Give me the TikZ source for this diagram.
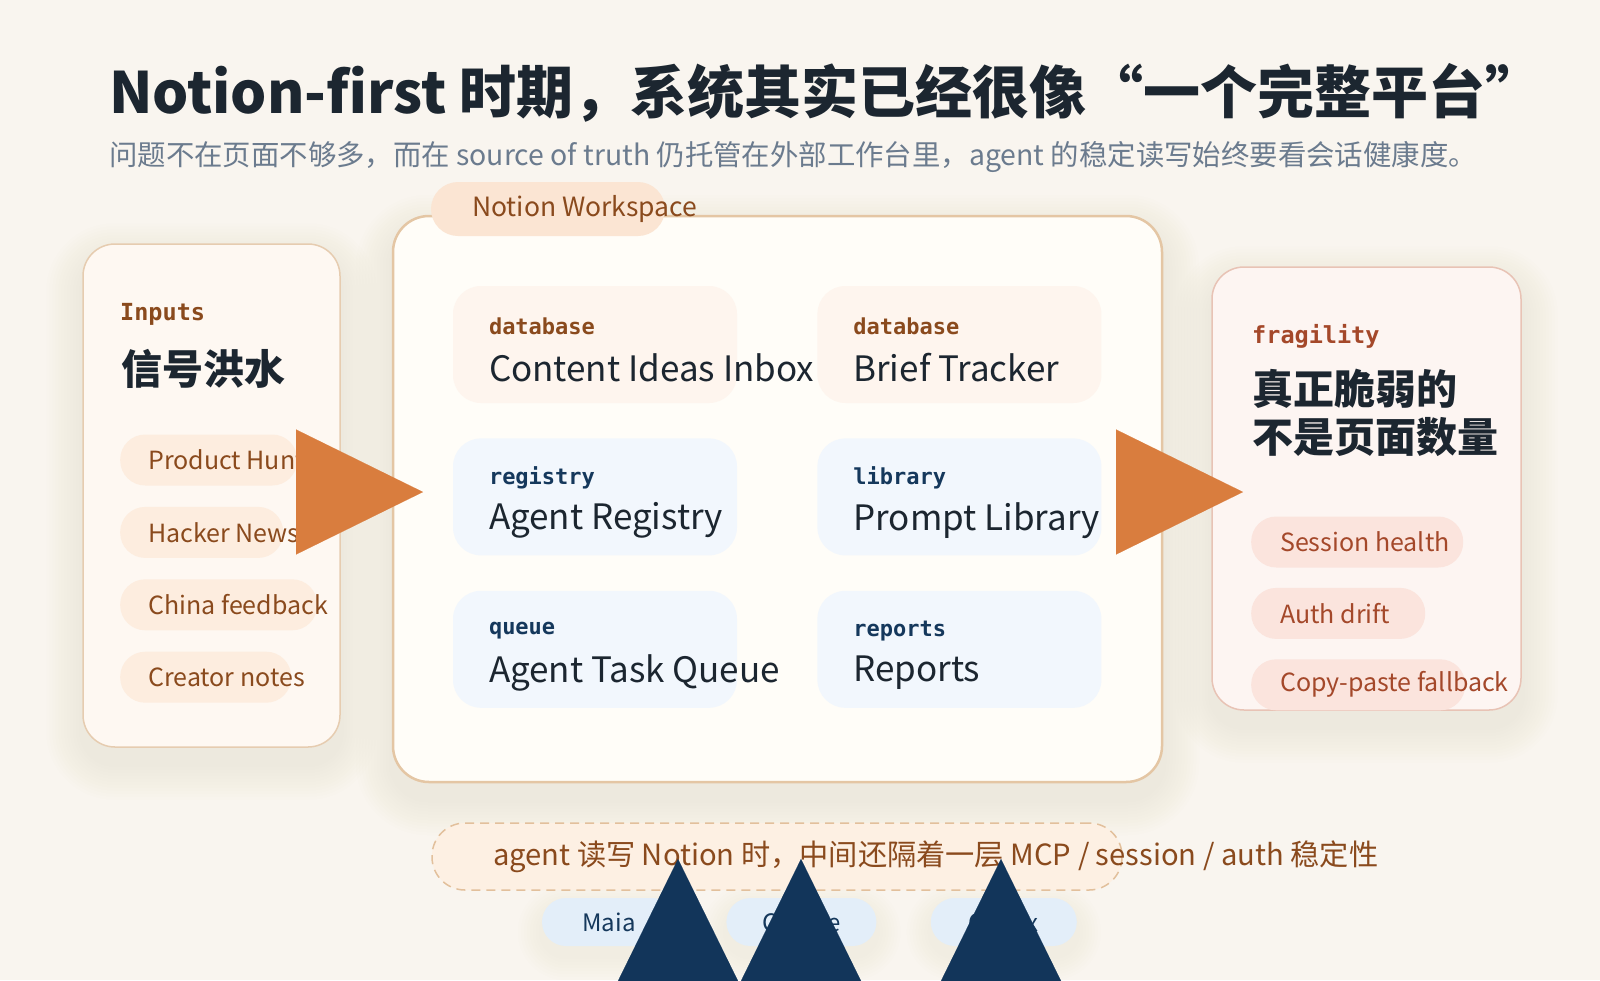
\documentclass[tikz,border=0pt]{standalone}
\usepackage{fontspec}
\setmainfont{Noto Sans CJK SC}
\newfontfamily\monofont{DejaVu Sans Mono}
\usetikzlibrary{positioning,arrows.meta,backgrounds}

\definecolor{paper}{HTML}{F9F5EF}
\definecolor{shadowtone}{HTML}{A88A66}
\definecolor{ink}{HTML}{1C2630}
\definecolor{slate}{HTML}{6B7B8E}
\definecolor{umber}{HTML}{8A4A1D}
\definecolor{rust}{HTML}{A4482A}
\definecolor{navy}{HTML}{15385C}
\definecolor{inputsfill}{HTML}{FEF8F2}
\definecolor{inputsline}{HTML}{E6CCB0}
\definecolor{wsfill}{HTML}{FFFDF8}
\definecolor{wsline}{HTML}{E4C6A4}
\definecolor{tabfill}{HTML}{FBE5D3}
\definecolor{warmcard}{HTML}{FEF5EE}
\definecolor{coolcard}{HTML}{F2F7FD}
\definecolor{warmpill}{HTML}{FDEDDF}
\definecolor{fragfill}{HTML}{FDF5F2}
\definecolor{fragline}{HTML}{E8C3B5}
\definecolor{fragpill}{HTML}{FBE4DD}
\definecolor{bluepill}{HTML}{E3EEF9}
\definecolor{calloutfill}{HTML}{FDF0E3}
\definecolor{calloutline}{HTML}{E2C09C}
\definecolor{flow}{HTML}{D97D3E}
\definecolor{deepnavy}{HTML}{12355A}

\begin{document}
\begin{tikzpicture}[x=1pt,y=-1pt]
  % Styles
  \tikzstyle{panel}=[draw, rectangle, rounded corners=32pt, line width=1.5pt, inner sep=0pt]
  \tikzstyle{card}=[rectangle, rounded corners=28pt, minimum width=284pt, minimum height=117pt, inner sep=0pt]
  \tikzstyle{tag}=[font=\monofont\bfseries\fontsize{22}{26}\selectfont, anchor=west, inner sep=0pt]
  \tikzstyle{cardtitle}=[font=\fontsize{35}{40}\selectfont, text=ink, anchor=west, inner sep=0pt]
  \tikzstyle{heading}=[font=\bfseries\fontsize{41}{48}\selectfont, text=ink, anchor=west, align=left, inner sep=0pt]
  \tikzstyle{pill}=[rectangle, rounded corners=25pt, minimum height=51pt, inner xsep=28pt, inner ysep=0pt, font=\fontsize{25}{28}\selectfont]
  \tikzstyle{agent}=[rectangle, fill=bluepill, text=navy, minimum height=48pt, rounded corners=24pt, inner sep=0pt, font=\fontsize{24}{28}\selectfont]
  \tikzstyle{bigtip}=[-{Triangle[length=127pt,width=125pt]}, line width=0.1pt]

  \useasboundingbox (0,0) rectangle (1600,980);

  % Title
  \node[anchor=base west, inner sep=0pt, text=ink, font=\bfseries\fontsize{57}{64}\selectfont] (title) at (109,113) {Notion-first 时期，系统其实已经很像“一个完整平台”};
  \node[anchor=base west, inner sep=0pt, text=slate, font=\fontsize{28.4}{32}\selectfont] (subtitle) at (109,165) {问题不在页面不够多，而在 source of truth 仍托管在外部工作台里，agent 的稳定读写始终要看会话健康度。};

  % Inputs
  \node[panel, draw=inputsline, fill=inputsfill, minimum width=257pt, minimum height=503pt] (inputs) at (211.5,495.5) {};
  \node[tag, text=umber, font=\monofont\bfseries\fontsize{23.5}{28}\selectfont] (inputstag) at (120,314) {Inputs};
  \node[heading] (inputshead) at (121,369) {信号洪水};
  \node[pill, fill=warmpill, text=umber, anchor=west] (ph) at (120,460) {\makebox[121pt][l]{Product Hunt}};
  \node[pill, fill=warmpill, text=umber, below=21pt of ph.south west, anchor=north west] (hn) {\makebox[107pt][l]{Hacker News}};
  \node[pill, fill=warmpill, text=umber, below=21pt of hn.south west, anchor=north west] (cf) {\makebox[141pt][l]{China feedback}};
  \node[pill, fill=warmpill, text=umber, below=21pt of cf.south west, anchor=north west] (cn) {\makebox[115pt][l]{Creator notes}};

  % Notion Workspace
  \node[panel, draw=wsline, fill=wsfill, line width=2.5pt, rounded corners=36pt, minimum width=769pt, minimum height=566pt] (ws) at (777.5,499) {};
  \node[pill, fill=tabfill, text=umber, minimum height=54pt, rounded corners=27pt, inner xsep=41pt, font=\fontsize{26.5}{30}\selectfont] (wstab) at (548,209) {\makebox[152pt][l]{Notion Workspace}};

  \node[card, fill=warmcard] (inbox) at (595,344.5) {};
  \node[card, fill=warmcard, right=80pt of inbox] (brief) {};
  \node[card, fill=coolcard, below=35pt of inbox] (registry) {};
  \node[card, fill=coolcard, right=80pt of registry] (prompts) {};
  \node[card, fill=coolcard, below=35pt of registry] (taskq) {};
  \node[card, fill=coolcard, right=80pt of taskq] (reports) {};

  \node[tag, text=umber] (inboxtag) at ([xshift=36pt,yshift=-40pt]inbox.north west) {database};
  \node[cardtitle] (inboxname) at ([xshift=36pt,yshift=-82pt]inbox.north west) {Content Ideas Inbox};
  \node[tag, text=umber] (brieftag) at ([xshift=36pt,yshift=-40pt]brief.north west) {database};
  \node[cardtitle] (briefname) at ([xshift=36pt,yshift=-82pt]brief.north west) {Brief Tracker};
  \node[tag, text=navy] (registrytag) at ([xshift=36pt,yshift=-40pt]registry.north west) {registry};
  \node[cardtitle] (registryname) at ([xshift=36pt,yshift=-82pt]registry.north west) {Agent Registry};
  \node[tag, text=navy] (promptstag) at ([xshift=36pt,yshift=-40pt]prompts.north west) {library};
  \node[cardtitle] (promptsname) at ([xshift=36pt,yshift=-82pt]prompts.north west) {Prompt Library};
  \node[tag, text=navy] (taskqtag) at ([xshift=36pt,yshift=-40pt]taskq.north west) {queue};
  \node[cardtitle] (taskqname) at ([xshift=36pt,yshift=-82pt]taskq.north west) {Agent Task Queue};
  \node[tag, text=navy] (reportstag) at ([xshift=36pt,yshift=-40pt]reports.north west) {reports};
  \node[cardtitle] (reportsname) at ([xshift=36pt,yshift=-82pt]reports.north west) {Reports};

  % Fragility
  \node[panel, draw=fragline, fill=fragfill, minimum width=309pt, minimum height=443pt] (frag) at (1366.5,488.5) {};
  \node[tag, text=rust, font=\monofont\bfseries\fontsize{23.5}{28}\selectfont] (fragtag) at (1252,336) {fragility};
  \node[heading] (fraghead) at (1252,413) {真正脆弱的\\不是页面数量};
  \node[pill, fill=fragpill, text=rust, anchor=west, inner xsep=29pt] (session) at (1251,542) {\makebox[154pt][l]{Session health}};
  \node[pill, fill=fragpill, text=rust, inner xsep=29pt, below=20pt of session.south west, anchor=north west] (auth) {\makebox[116pt][l]{Auth drift}};
  \node[pill, fill=fragpill, text=rust, inner xsep=29pt, below=20pt of auth.south west, anchor=north west] (copy) {\makebox[156pt][l]{Copy-paste fallback}};

  % Callout and agents
  \node[pill, fill=calloutfill, draw=calloutline, line width=1.5pt, dash pattern=on 9pt off 6pt, minimum height=67pt, rounded corners=33pt, inner xsep=61pt, text=umber, font=\fontsize{29.2}{32}\selectfont] (mcp) at (777,856.5) {\makebox[568pt][l]{agent 读写 Notion 时，中间还隔着一层 MCP / session / auth 稳定性}};
  \node[agent, minimum width=134pt] (maia) at (609,922) {Maia};
  \node[agent, minimum width=150pt, right=50pt of maia] (claude) {Claude};
  \node[agent, minimum width=146pt, right=54pt of claude] (codex) {Codex};

  % Paper and soft shadows
  \begin{scope}[on background layer]
    \fill[paper] (0,0) rectangle (1600,980);
    \foreach \nd/\rad in {inputs/32, ws/36, frag/32} {
      \foreach \s in {3,6,...,36} {
        \fill[shadowtone, opacity=0.008, rounded corners=\rad pt+\s pt] ([xshift=-\s pt, yshift=\s pt-16pt]\nd.north west) rectangle ([xshift=\s pt, yshift=-\s pt-16pt]\nd.south east);
      }
    }
    \foreach \nd in {maia, claude, codex} {
      \foreach \s in {3,6,...,24} {
        \fill[shadowtone, opacity=0.007, rounded corners=24pt+\s pt] ([xshift=-\s pt, yshift=\s pt-10pt]\nd.north west) rectangle ([xshift=\s pt, yshift=-\s pt-10pt]\nd.south east);
      }
    }
  \end{scope}

  % Arrows
  \coordinate (inA) at (296,492);
  \coordinate (inB) at (423,492);
  \coordinate (outA) at (1116,492);
  \coordinate (outB) at (1243,492);
  \coordinate (maiaA) at (678,986);
  \coordinate (maiaB) at (678,859);
  \coordinate (claudeA) at (801,986);
  \coordinate (claudeB) at (801,859);
  \coordinate (codexA) at (1001,986);
  \coordinate (codexB) at (1001,859);
  \draw[bigtip, flow] (inA) -- (inB);
  \draw[bigtip, flow] (outA) -- (outB);
  \draw[bigtip, deepnavy] (maiaA) -- (maiaB);
  \draw[bigtip, deepnavy] (claudeA) -- (claudeB);
  \draw[bigtip, deepnavy] (codexA) -- (codexB);
\end{tikzpicture}
\end{document}
